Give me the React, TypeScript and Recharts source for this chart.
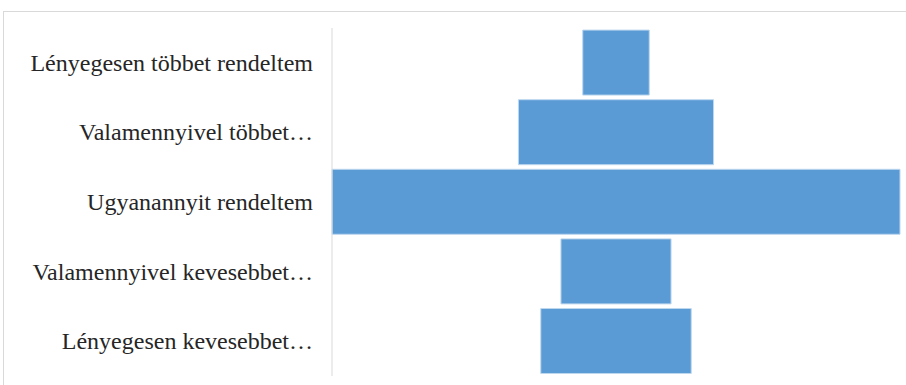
import { useEffect, useState } from 'react';
import { Bar, BarChart, XAxis, YAxis } from 'recharts';

// kategóriák felülről lefelé
const CATEGORIES = [
  'Lényegesen többet rendeltem',
  'Valamennyivel többet…',
  'Ugyanannyit rendeltem',
  'Valamennyivel kevesebbet…',
  'Lényegesen kevesebbet…',
];

// becsült arányok (%)
const VALUES = [6.1, 17.9, 52.1, 10.1, 13.8];

const BLUE = '#5b9bd5';
const SERIF = 'Liberation Serif';
const MAX = Math.max(...VALUES);

// tölcsér: átlátszó kitöltés + középre igazított sáv
const rows = CATEGORIES.map((name, i) => ({
  name,
  pad: (MAX - VALUES[i]) / 2,
  value: VALUES[i],
}));

function CategoryTick(props: any) {
  const { x, y, payload } = props;
  return (
    <text
      x={x}
      y={y}
      dy={8}
      textAnchor="end"
      fontFamily={SERIF}
      fontSize={24}
      fill="#262626"
      style={{ fontFamily: SERIF }}
    >
      {payload.value}
    </text>
  );
}

export default function App() {
  // második render, miután a betűtípus betöltődött
  const [pass, setPass] = useState(0);
  useEffect(() => {
    const t = setTimeout(() => setPass(1), 250);
    return () => clearTimeout(t);
  }, []);

  return (
    <div
      style={{
        position: 'fixed',
        left: 0,
        top: 0,
        width: 906,
        height: 385,
        overflow: 'hidden',
        background: '#fff',
        fontFamily: SERIF,
      }}
    >
      <span style={{ position: 'absolute', left: 0, top: 0, fontSize: 24, color: '#fff' }}>
        Lényegesen többet
      </span>
      <div
        style={{
          position: 'absolute',
          left: 3,
          top: 11,
          width: 940,
          height: 420,
          border: '1px solid #d9d9d9',
        }}
      />
      <div style={{ position: 'absolute', left: 0, top: 0 }}>
        <BarChart
          key={pass}
          width={906}
          height={385}
          data={rows}
          layout="vertical"
          barCategoryGap="3%"
          margin={{ top: 28, right: 6, bottom: 9, left: 0 }}
        >
          <XAxis type="number" hide domain={[0, MAX]} />
          <YAxis
            dataKey="name"
            type="category"
            width={332}
            axisLine={{ stroke: '#d9d9d9' }}
            tickLine={false}
            tickSize={0}
            tickMargin={19}
            tick={<CategoryTick />}
          />
          <Bar dataKey="pad" stackId="f" fill="transparent" isAnimationActive={false} />
          <Bar
            dataKey="value"
            stackId="f"
            fill={BLUE}
            stroke="#bdd7ee"
            strokeWidth={1}
            isAnimationActive={false}
          />
        </BarChart>
      </div>
    </div>
  );
}
